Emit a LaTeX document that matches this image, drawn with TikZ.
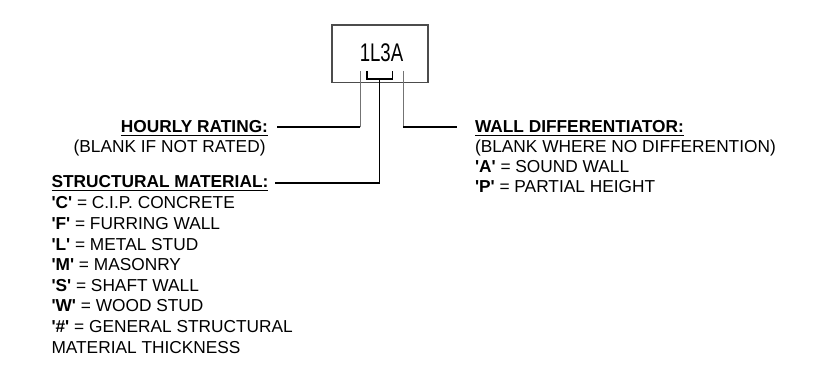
\documentclass[tikz,border=0pt]{standalone}
\usepackage{fontspec}
\setmainfont{Liberation Sans}
\newcommand\sq{\XeTeXglyph\XeTeXglyphindex "quotesingle"\relax}
\begin{document}
\begin{tikzpicture}[x=1pt,y=-1pt,
  lbl/.style={inner sep=0pt, outer sep=0pt, font=\fontsize{17.3}{20.6}\selectfont},
  head/.style={lbl, font=\fontsize{17.3}{20.6}\selectfont\bfseries},
  ul/.style={line width=1.3pt},
  lead/.style={black, line width=1.1pt},
  tick/.style={black!55, line width=1.5pt},
  tagbox/.style={draw=black!70, line width=1.1pt, minimum width=96pt, minimum height=57.3pt, inner sep=0pt}]
\useasboundingbox (0,0) rectangle (830,371);
% tag
\node[tagbox] (tag) at (380,53.7) {};
\node[inner sep=0pt, anchor=base, font=\fontsize{25.5}{25.5}\selectfont] (code) at (381.5,61.7) {\scalebox{0.73}[1]{1L3A}};
% connector points
\coordinate (hrtop) at (360.3,71);
\coordinate (hrbend) at (360.3,127);
\coordinate (hrend) at (277,127);
\coordinate (wdtop) at (403.3,71);
\coordinate (wdbend) at (403.3,127);
\coordinate (wdend) at (457,127);
\coordinate (brl) at (367,71);
\coordinate (brr) at (392.3,71);
\coordinate (smtop) at (379.6,79);
\coordinate (smbend) at (379.6,183);
\coordinate (smend) at (275,183);
% left texts
\node[head, anchor=base east] (hr) at (268,132.7) {HOURLY RATING:};
\node[lbl, anchor=base east] (hrsub) at (265.5,152.7) {(BLANK IF NOT RATED)};
\node[head, anchor=base west] (sm) at (51.5,188) {STRUCTURAL MATERIAL:};
\node[lbl, anchor=base west] (sm1) at (51.5,209) {\textbf{\sq C\sq} = C.I.P. CONCRETE};
\node[lbl, anchor=base west] (sm2) at (51.5,229.6) {\textbf{\sq F\sq} = FURRING WALL};
\node[lbl, anchor=base west] (sm3) at (51.5,250.2) {\textbf{\sq L\sq} = METAL STUD};
\node[lbl, anchor=base west] (sm4) at (51.5,270.8) {\textbf{\sq M\sq} = MASONRY};
\node[lbl, anchor=base west] (sm5) at (51.5,291.4) {\textbf{\sq S\sq} = SHAFT WALL};
\node[lbl, anchor=base west] (sm6) at (51.5,312) {\textbf{\sq W\sq} = WOOD STUD};
\node[lbl, anchor=base west] (sm7) at (51.5,332.6) {\textbf{\sq\#\sq} = GENERAL STRUCTURAL};
\node[lbl, anchor=base west] (sm8) at (51.5,353.2) {MATERIAL THICKNESS};
% right texts
\node[head, anchor=base west] (wd) at (475,132.7) {WALL DIFFERENTIATOR:};
\node[lbl, anchor=base west] (wd1) at (475,152.7) {(BLANK WHERE NO DIFFERENTION)};
\node[lbl, anchor=base west] (wd2) at (475,172.7) {\textbf{\sq A\sq} = SOUND WALL};
\node[lbl, anchor=base west] (wd3) at (475,192.7) {\textbf{\sq P\sq} = PARTIAL HEIGHT};
% underlines
\foreach \n in {hr,sm,wd}{
  \draw[ul] ([yshift=-2.6pt]\n.base west) -- ([yshift=-2.6pt]\n.base east);
}
% connectors
\draw[tick] (hrtop) -- (hrbend);
\draw[lead] (hrbend) -- (hrend);
\draw[tick] (wdtop) -- (wdbend);
\draw[lead] (wdbend) -- (wdend);
\draw[lead] (brl) |- (smtop) -| (brr);
\draw[lead] (smtop) -- (smbend) -- (smend);
\end{tikzpicture}
\end{document}
